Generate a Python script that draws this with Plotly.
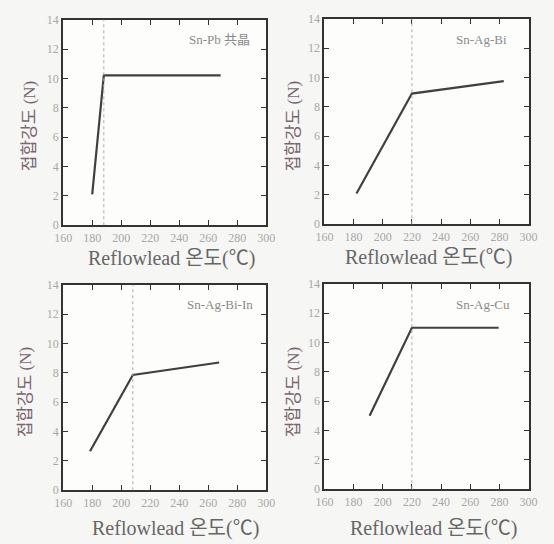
import plotly.graph_objects as go

# ---- data ----
panel_labels = ["Sn-Pb 共晶", "Sn-Ag-Bi", "Sn-Ag-Bi-In", "Sn-Ag-Cu"]
temp_snpb = [180, 188, 268.5]
force_snpb = [2.1, 10.2, 10.2]
temp_snagbi = [182, 220, 283]
force_snagbi = [2.1, 8.9, 9.75]
temp_snagbiin = [178.5, 208, 267.5]
force_snagbiin = [2.65, 7.85, 8.7]
temp_snagcu = [191, 220, 279.5]
force_snagcu = [5.0, 11.0, 11.0]
knee_temps = [188, 220, 208, 220]
x_ticks = [160, 180, 200, 220, 240, 260, 280, 300]
y_ticks = [0, 2, 4, 6, 8, 10, 12, 14]
x_title = "Reflowlead 온도(℃)"
y_title = "접합강도 (N)"

temps = [temp_snpb, temp_snagbi, temp_snagbiin, temp_snagcu]
forces = [force_snpb, force_snagbi, force_snagbiin, force_snagcu]

W, H = 554, 544
# pixel boxes: (left, right, top, bottom)
boxes = [(56, 266, 13, 224), (326, 537, 12, 223), (56, 266, 285, 496), (326, 537, 284, 495)]
xtitle_pos = [(168, 258), (434, 257), (172, 535), (439, 535)]
ytitle_pos = [(22, 122), (294, 122), (17, 395), (294, 395)]
label_pos = [(251, 33), (517, 33), (254, 305), (520, 305)]

SERIF = "Liberation Serif, Noto Sans CJK KR, serif"
fig = go.Figure()
layout = dict(
    width=W, height=H, margin=dict(l=0, r=0, t=0, b=0),
    paper_bgcolor="#f6f6f4", plot_bgcolor="#fdfdfc", showlegend=False,
    annotations=[], shapes=[],
)

for i in range(4):
    l, r, t, b = boxes[i]
    xa = "xaxis" if i == 0 else f"xaxis{i+1}"
    ya = "yaxis" if i == 0 else f"yaxis{i+1}"
    xref = "x" if i == 0 else f"x{i+1}"
    yref = "y" if i == 0 else f"y{i+1}"
    axis_common = dict(
        showgrid=False, zeroline=False, showline=True, linecolor="#333333",
        linewidth=2, mirror="ticks", ticks="inside", ticklen=5, tickwidth=1,
        tickcolor="#333333", tickfont=dict(family=SERIF, size=12, color="#a8a8a8"),
    )
    layout[xa] = dict(axis_common, domain=[l / W, r / W], range=[160, 300],
                      tickvals=x_ticks, anchor=yref)
    layout[ya] = dict(axis_common, domain=[1 - b / H, 1 - t / H], range=[0, 14],
                      tickvals=y_ticks, anchor=xref)
    fig.add_trace(go.Scatter(x=temps[i], y=forces[i], mode="lines",
                             line=dict(color="#404040", width=2.2),
                             xaxis=xref, yaxis=yref, hoverinfo="skip"))
    layout["shapes"].append(dict(type="line", xref=xref, yref=f"{yref} domain",
                                 x0=knee_temps[i], x1=knee_temps[i], y0=0, y1=1,
                                 line=dict(color="#ababab", width=1, dash="dot")))
    px, py = xtitle_pos[i]
    layout["annotations"].append(dict(text=x_title, x=px / W, y=1 - py / H,
                                      xref="paper", yref="paper", showarrow=False,
                                      xanchor="center", yanchor="middle",
                                      font=dict(family=SERIF, size=20, color="#666666")))
    px, py = ytitle_pos[i]
    layout["annotations"].append(dict(text=y_title, x=px / W, y=1 - py / H,
                                      xref="paper", yref="paper", showarrow=False,
                                      textangle=-90, xanchor="center", yanchor="middle",
                                      font=dict(family=SERIF, size=17, color="#7a6470")))
    px, py = label_pos[i]
    layout["annotations"].append(dict(text=panel_labels[i], x=px / W, y=1 - py / H,
                                      xref="paper", yref="paper", showarrow=False,
                                      xanchor="right", yanchor="middle",
                                      font=dict(family=SERIF, size=13, color="#8a8a8a")))

fig.update_layout(**layout)
fig.write_html("out.html")
